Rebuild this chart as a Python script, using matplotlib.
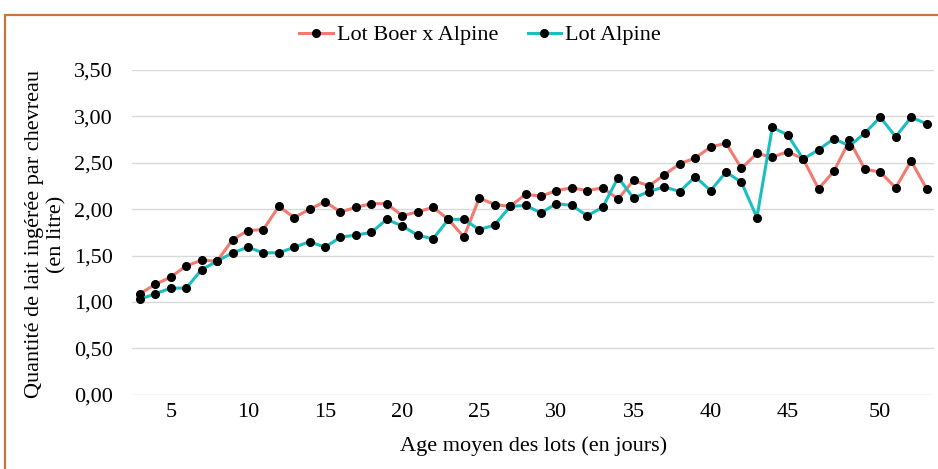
import numpy as np
import matplotlib.pyplot as plt
from matplotlib.patches import Rectangle

# ---------------------------------
# Data
# ---------------------------------
lot_boer = [1.09, 1.19, 1.27, 1.39, 1.45, 1.44, 1.67, 1.77, 1.78, 2.03,
            1.91, 2.00, 2.08, 1.97, 2.02, 2.06, 2.06, 1.93, 1.97, 2.02,
            1.89, 1.70, 2.12, 2.05, 2.03, 2.16, 2.14, 2.20, 2.23, 2.20,
            2.23, 2.11, 2.31, 2.25, 2.37, 2.49, 2.55, 2.67, 2.71, 2.44,
            2.60, 2.56, 2.62, 2.54, 2.22, 2.41, 2.74, 2.43, 2.40, 2.23,
            2.52, 2.22]
lot_alpine = [1.03, 1.09, 1.15, 1.15, 1.35, 1.44, 1.53, 1.59, 1.53, 1.53,
              1.59, 1.65, 1.59, 1.70, 1.72, 1.75, 1.89, 1.82, 1.72, 1.68,
              1.89, 1.89, 1.78, 1.83, 2.03, 2.04, 1.96, 2.06, 2.04, 1.93,
              2.02, 2.34, 2.12, 2.19, 2.24, 2.19, 2.35, 2.20, 2.40, 2.29,
              1.91, 2.88, 2.80, 2.54, 2.64, 2.76, 2.68, 2.82, 2.99, 2.78,
              2.99, 2.92]

# category positions of the shown age labels
tick_index = [2, 7, 12, 17, 22, 27, 32, 37, 42, 48]
tick_labels = ["5", "10", "15", "20", "25", "30", "35", "40", "45", "50"]
y_ticks = [0, 0.5, 1, 1.5, 2, 2.5, 3, 3.5]

red = "#F47A70"
cyan = "#1BBFC2"

plt.rcParams['font.family'] = ['Liberation Serif', 'DejaVu Serif']

# ---------------------------------
# Plot
# ---------------------------------
fig = plt.figure(figsize=(9.38, 4.69), dpi=100)
ax = fig.add_axes([0.141, 0.158, 0.855, 0.693])

x = np.arange(len(lot_boer))
ax.plot(x, lot_boer, color=red, lw=2.2, marker="o", ms=5.5,
        mfc="black", mec="black", label="Lot Boer x Alpine", zorder=3)
ax.plot(x, lot_alpine, color=cyan, lw=2.2, marker="o", ms=5.5,
        mfc="black", mec="black", label="Lot Alpine", zorder=3)

ax.set_xlim(-0.5, len(x) - 0.5)
ax.set_ylim(0, 3.5)
ax.set_yticks(y_ticks)
ax.set_yticklabels([f"{v:.2f}".replace(".", ",") for v in y_ticks])
ax.set_xticks(tick_index)
ax.set_xticklabels(tick_labels)
ax.tick_params(axis="both", length=0, labelsize=16)
ax.tick_params(axis="y", pad=14)
ax.tick_params(axis="x", pad=6)

ax.grid(axis="y", color="#D9D9D9", lw=1)
ax.set_axisbelow(True)
for s in ax.spines.values():
    s.set_visible(False)

ax.set_xlabel("Age moyen des lots (en jours)", fontsize=16, labelpad=10)
fig.text(0.049, 0.50, "Quantité de lait ingérée par chevreau\n(en litre)",
         rotation=90, ha="center", va="center", fontsize=16,
         multialignment="center", linespacing=1.2)

fig.legend(loc="center", ncol=2, frameon=False, fontsize=16,
           bbox_to_anchor=(0.512, 0.925), handlelength=1.5,
           handletextpad=0.2, columnspacing=1.3)

# chart border (cropped at the right and bottom)
fig.patches.append(Rectangle((5 / 938, -0.1), 1.1, 1 - 15 / 469 + 0.1,
                             transform=fig.transFigure, fill=False,
                             edgecolor="#C8763E", lw=1.6))

plt.savefig("out.png", dpi=100)
